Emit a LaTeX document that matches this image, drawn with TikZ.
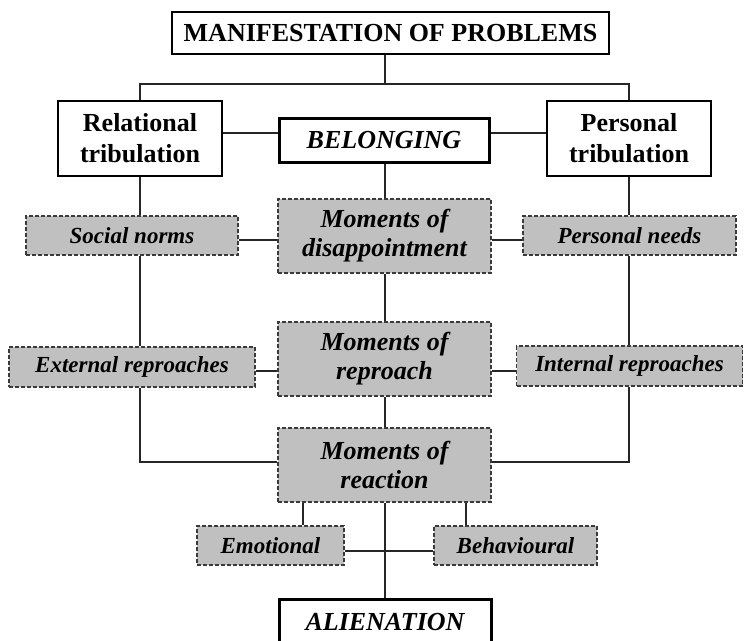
\documentclass[tikz,border=0pt]{standalone}
\usepackage{fontspec}
\setmainfont{Liberation Serif}
\usetikzlibrary{calc}
\definecolor{boxgray}{HTML}{C0C0C0}
\definecolor{dashgray}{HTML}{3A3A3A}
\begin{document}
\begin{tikzpicture}[x=1pt,y=-1pt,
  every node/.style={inner sep=0pt, align=center, anchor=center},
  link/.style={line width=1.3pt, draw=black!85},
  headbox/.style={draw, line width=1.4pt, fill=white,
    font=\fontsize{26}{31}\selectfont\bfseries},
  keybox/.style={draw, line width=3pt, fill=white,
    font=\fontsize{26}{30}\selectfont\bfseries\itshape},
  bigmoment/.style={draw=dashgray, dash pattern=on 4pt off 2pt, line width=1.2pt,
    fill=boxgray, minimum width=213pt, minimum height=74pt,
    font=\fontsize{26}{29}\selectfont\bfseries\itshape},
  sidebox/.style={draw=dashgray, dash pattern=on 4pt off 2pt, line width=1.2pt,
    fill=boxgray, minimum height=39pt,
    font=\fontsize{23}{27}\selectfont\bfseries\itshape}]
\useasboundingbox (0,0) rectangle (744,640);
\clip (0,0) rectangle (744,640);

% nodes
\node[headbox, minimum width=437pt, minimum height=42pt] (top) at (390.5,33) {MANIFESTATION OF PROBLEMS};
\node[headbox, minimum width=164pt, minimum height=75pt] (rel) at (140,138.5) {Relational\\tribulation};
\node[keybox, minimum width=210pt, minimum height=44pt] (bel) at (384,140) {BELONGING};
\node[headbox, minimum width=164pt, minimum height=75pt] (per) at (629,138.5) {Personal\\tribulation};

\node[sidebox, minimum width=212pt] (soc) at (132,235.5) {Social norms};
\node[bigmoment] (mod) at (384.5,236) {Moments of\\disappointment};
\node[sidebox, minimum width=213pt] (pneeds) at (629.5,235.5) {Personal needs};

\node[sidebox, minimum width=246pt, minimum height=40pt] (ext) at (132,367) {External reproaches};
\node[bigmoment] (mor) at (384.5,359) {Moments of\\reproach};
\node[sidebox, minimum width=226pt, minimum height=40pt] (intr) at (629.5,366) {Internal reproaches};

\node[bigmoment] (morea) at (384.5,465) {Moments of\\reaction};
\node[sidebox, minimum width=147pt] (emo) at (270.5,545.5) {Emotional};
\node[sidebox, minimum width=163pt] (beh) at (515.5,545.5) {Behavioural};

\node[keybox, minimum width=212pt, minimum height=46pt] (ali) at (385,622) {ALIENATION};

% routing points
\coordinate (bus) at (385,84);
\coordinate (belrow) at (0,133);
\coordinate (normrow) at (0,240);
\coordinate (reprow) at (0,371);
\coordinate (reactrow) at (0,462);
\coordinate (reactrow2) at (0,551);
\coordinate (emox) at (303,0);
\coordinate (behx) at (466,0);

% connectors
\draw[link] (top.south -| bus) -- (bus);
\draw[link] (rel.north) |- (bus) -| (per.north);
\draw[link] (rel.east |- belrow) -- (bel.west |- belrow);
\draw[link] (bel.east |- belrow) -- (per.west |- belrow);
\draw[link] (bel.south -| bus) -- (mod.north -| bus);

\draw[link] (rel.south) -- (rel.south |- soc.north);
\draw[link] (per.south) -- (per.south |- pneeds.north);
\draw[link] (soc.east |- normrow) -- (mod.west |- normrow);
\draw[link] (mod.east |- normrow) -- (pneeds.west |- normrow);

\draw[link] (rel.south |- soc.south) -- (rel.south |- ext.north);
\draw[link] (per.south |- pneeds.south) -- (per.south |- intr.north);
\draw[link] (mod.south -| bus) -- (mor.north -| bus);
\draw[link] (ext.east |- reprow) -- (mor.west |- reprow);
\draw[link] (mor.east |- reprow) -- (intr.west |- reprow);

\draw[link] (rel.south |- ext.south) |- (morea.west |- reactrow);
\draw[link] (per.south |- intr.south) |- (morea.east |- reactrow);
\draw[link] (mor.south -| bus) -- (morea.north -| bus);

\draw[link] (morea.south -| emox) -- (emo.north -| emox);
\draw[link] (morea.south -| behx) -- (beh.north -| behx);
\draw[link] (emo.east |- reactrow2) -- (beh.west |- reactrow2);
\draw[link] (morea.south -| bus) -- (ali.north -| bus);
\end{tikzpicture}
\end{document}
